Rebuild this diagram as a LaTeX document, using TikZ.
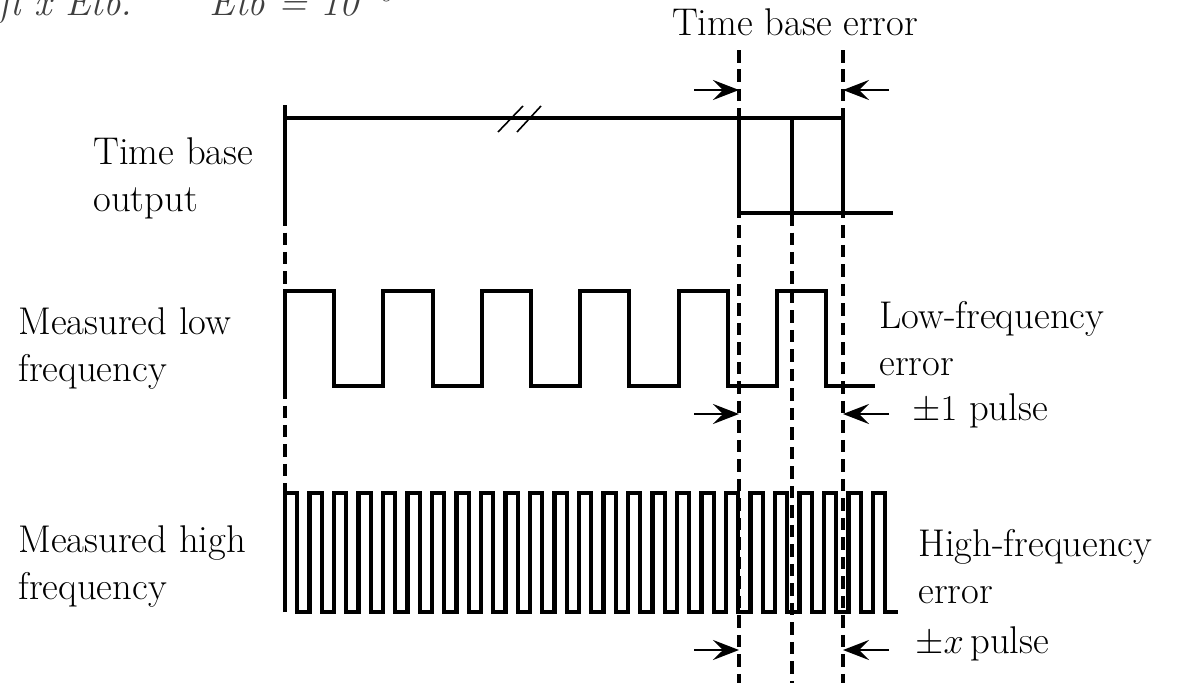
\documentclass[tikz,border=0pt]{standalone}
\usepackage{tikz}
\usetikzlibrary{arrows.meta}
\definecolor{ink}{HTML}{000000}
\definecolor{inkgray}{HTML}{404040}
\tikzset{
  wave/.style={draw=ink, line width=2.3pt, line join=miter},
  guide/.style={draw=ink, line width=1.9pt, dash pattern=on 0.25cm off 0.14cm},
  gap/.style={draw=ink, line width=1.6pt, -{Stealth[length=0.52cm,width=0.4cm,inset=0.2cm]}},
  lbl/.style={font=\fontsize{22}{26.2}\selectfont, align=left, anchor=base west, inner sep=0pt},
}

\begin{document}
\begin{tikzpicture}[x=0.02cm,y=-0.02cm]
\useasboundingbox (0,0) rectangle (1190,683);
% cut-off formula at the top
\begin{scope}
\clip (0,0) rectangle (1190,683);
\node[lbl, text=inkgray] (formula) at (-2,15) {\textit{fl x Etb.}\hspace{1.55cm}\textit{Etb\,\,=\,\,10}$^{-6}$};
\end{scope}
\node[lbl, anchor=base] (tberr) at (795,35) {Time base error};
% time base output
\draw[wave] (285,105) -- (285,213);
\draw[wave] (285,118) -- (843,118) -- (843,213);
\draw[wave] (739,118) -- (739,213) -- (893,213);
\draw[wave] (792,118) -- (792,213);
\draw[line width=0.9pt] (498,132) -- (523,106);
\draw[line width=0.9pt] (517,132) -- (541,106);
% measured low frequency
\draw[wave] (285,386) foreach \k in {0,...,5} { -- ++(0,-95) -- ++(49.2,0) -- ++(0,95) -- ++(49.2,0) };
% measured high frequency
\draw[wave] (285,612) foreach \k in {0,...,24} { -- ++(0,-119) -- ++(12.25,0) -- ++(0,119) -- ++(12.25,0) };
% guide lines
\draw[guide] (285,213) -- (285,291);
\draw[guide] (285,386) -- (285,493);
\draw[guide] (739,50) -- (739,683);
\draw[guide] (792,213) -- (792,683);
\draw[guide] (843,50) -- (843,683);
% error markers
\foreach \y in {90,414,650} {
  \coordinate (errL) at (739,\y);
  \coordinate (errR) at (843,\y);
  \draw[gap] (694,\y) -- (errL);
  \draw[gap] (889,\y) -- (errR);
}
% labels (base = last line)
\node[lbl] (tbout) at (93,211) {Time base\\output};
\node[lbl] (lowlbl) at (18,381) {Measured low\\frequency};
\node[lbl] (highlbl) at (18,599) {Measured high\\frequency};
\node[lbl] (lowerr) at (879,375) {Low-frequency\\error};
\node[lbl] (lowpulse) at (912,420) {$\pm1$ pulse};
\node[lbl] (higherr) at (918,603) {High-frequency\\error};
\node[lbl] (highpulse) at (915,653) {$\pm x$\,pulse};
\end{tikzpicture}
\end{document}
